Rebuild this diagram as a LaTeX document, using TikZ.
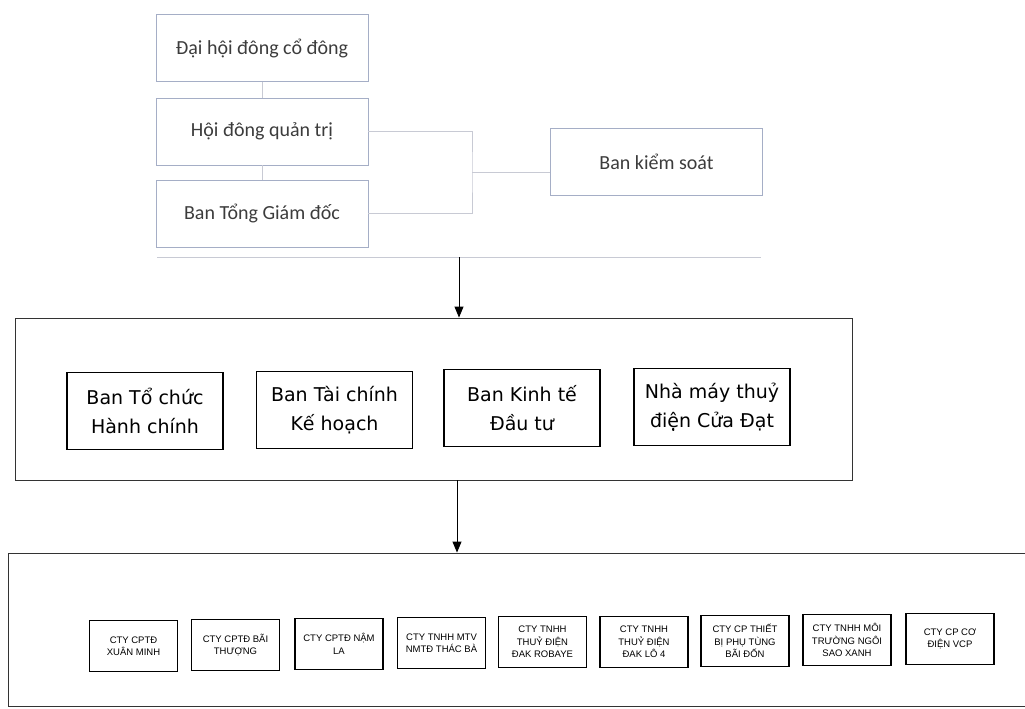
\documentclass[tikz,border=0pt]{standalone}
\usepackage{fontspec}
\setmainfont{DejaVu Sans}
\newfontfamily\topfont{Carlito}
\newfontfamily\ctyfont{Liberation Sans}
\usetikzlibrary{arrows.meta}

\definecolor{framegray}{RGB}{165,174,198}
\definecolor{linkgray}{RGB}{200,202,212}
\definecolor{textgray}{RGB}{60,60,60}

\tikzset{
  topbox/.style={draw=framegray, line width=0.7pt, minimum width=212pt, minimum height=67pt,
    text=textgray, font=\topfont\fontsize{20}{24}\selectfont},
  link/.style={draw=linkgray, line width=0.7pt},
  bigframe/.style={draw=black!80, line width=0.9pt},
  banbox/.style={draw=black, line width=1.1pt, minimum width=156pt, minimum height=77pt,
    align=center, font=\fontsize{19}{29}\selectfont},
  ctybox/.style={draw=black, line width=1.2pt, minimum width=88pt, minimum height=51pt,
    align=center, inner sep=1pt, font=\ctyfont\fontsize{9.5}{12.5}\selectfont},
  down/.style={line width=0.9pt, -{Triangle[width=9pt,length=11pt]}}
}

\begin{document}
\begin{tikzpicture}[x=1pt,y=-1pt]
	\useasboundingbox (0,0) rectangle (1025,709);

	% top management
	\node [topbox] (dhdcd) at (262,48) {Đại hội đông cổ đông};
	\node [topbox] (hdqt) at (262,131.5) {Hội đông quản trị};
	\node [topbox] (btgd) at (262,213.5) {Ban Tổng Giám đốc};
	\node [topbox] (bks) at (656.5,161.5) {Ban kiểm soát};

	\draw [link] (dhdcd.south) -- (hdqt.north);
	\draw [link] (hdqt.south) -- (btgd.north);

	\coordinate (rail) at (472,172);
	\draw [link] (hdqt.east) -| (rail) |- (btgd.east);
	\draw [link] (rail) -- (rail -| bks.west);

	\coordinate (busL) at (157,257);
	\coordinate (busR) at (761,257);
	\coordinate (bus) at (459,257);
	\draw [link] (busL) -- (busR);

	% departments
	\node [bigframe, minimum width=837pt, minimum height=162pt] (khoi) at (433.5,399) {};
	\node [banbox] (bantc) at (145,411) {Ban Tổ chức\\Hành chính};
	\node [banbox] (bantck) at (334.5,410) {Ban Tài chính\\Kế hoạch};
	\node [banbox] (bankt) at (522,408) {Ban Kinh tế\\Đầu tư};
	\node [banbox] (nmcd) at (712,407) {Nhà máy thuỷ\\điện Cửa Đạt};

	\draw [down] (bus) -- (bus |- khoi.north);

	% companies
	\node [bigframe, minimum width=1022pt, minimum height=153pt] (congty) at (519,629.5) {};
	\coordinate (drop) at (457,480);
	\draw [down] (drop) -- (drop |- congty.north);

	\node [ctybox] (xuanminh) at (133.5,646) {CTY CPTĐ\\XUÂN MINH};
	\node [ctybox] (baithuong) at (235.5,645) {CTY CPTĐ BÃI\\THƯỢNG};
	\node [ctybox] (namla) at (339,644) {CTY CPTĐ NẬM\\LA};
	\node [ctybox] (thacba) at (441.5,643) {CTY TNHH MTV\\NMTĐ THÁC BÀ};
	\node [ctybox] (robaye) at (542.5,642) {CTY TNHH\\THUỶ ĐIỆN\\ĐAK ROBAYE};
	\node [ctybox] (daklo) at (644,642) {CTY TNHH\\THUỶ ĐIỆN\\ĐAK LÔ 4};
	\node [ctybox] (baidon) at (745,641) {CTY CP THIẾT\\BỊ PHỤ TÙNG\\BÃI ĐỐN};
	\node [ctybox] (saoxanh) at (847,640) {CTY TNHH MÔI\\TRƯỜNG NGÔI\\SAO XANH};
	\node [ctybox] (vcp) at (950,639) {CTY CP CƠ\\ĐIỆN VCP};
\end{tikzpicture}
\end{document}
